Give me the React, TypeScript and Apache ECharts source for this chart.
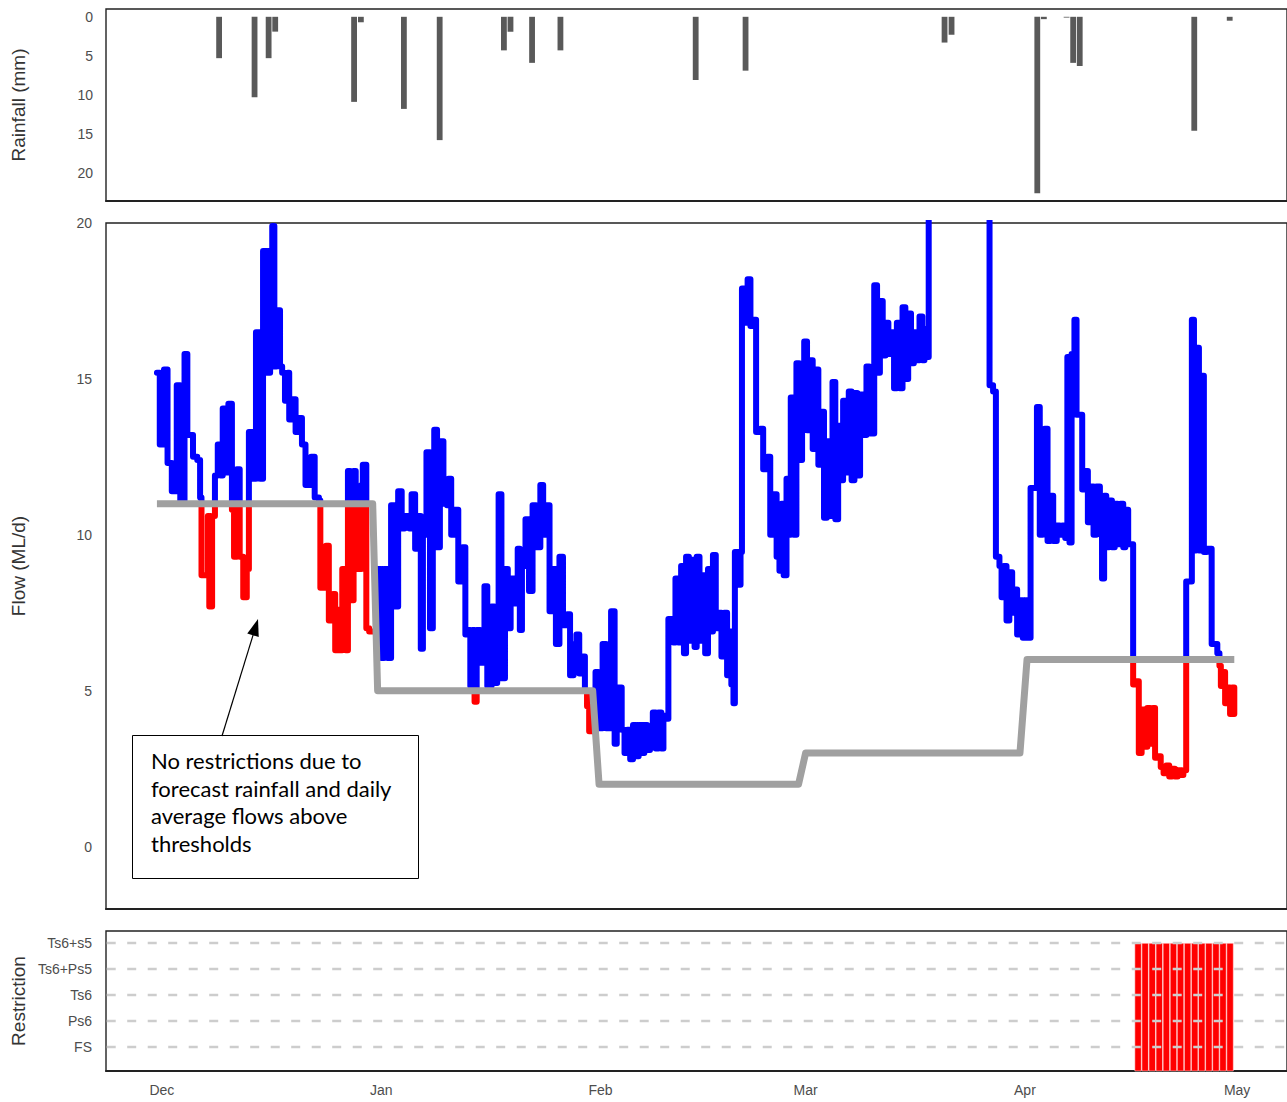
import React, { useEffect, useRef } from "react";
import * as echarts from "echarts";

// x values are days since 1 December (Dec 1 = 0)
const monthTickDays = [0, 31, 62, 91, 122, 152];
const monthLabels = ["Dec", "Jan", "Feb", "Mar", "Apr", "May"];
const axisDayMin = -7.9;
const axisDayMax = 159.05;

const rainTicks = [0, 5, 10, 15, 20];
const flowTicks = [0, 5, 10, 15, 20];

const rainDays = [8.09, 13.1, 15.09, 16.02, 27.17, 28.13, 34.21, 39.27, 48.35, 49.28, 52.33, 56.34, 75.46, 82.51, 110.64, 111.63, 123.75, 124.68, 127.89, 128.82, 129.75, 145.94, 150.95];
const rainMm = [5.3, 10.3, 5.3, 1.9, 10.9, 0.7, 11.8, 15.8, 4.3, 1.9, 5.9, 4.3, 8.1, 6.9, 3.3, 2.3, 22.6, 0.3, 0.1, 5.9, 6.3, 14.6, 0.5];

// flow (ML/d), step series [day, value] — each value holds until the next day
const flowPoints: [number, number][] = [
  [-0.7, 15.2], [-0.3, 12.9], [0.3, 15.3], [0.8, 12.3], [1.4, 11.4], [2.1, 14.8], [2.6, 11.1], [3.2, 15.8], [3.6, 13.2], [4.4, 12.5],
  [5.0, 12.4], [5.4, 11.2], [5.6, 8.7], [6.5, 10.6], [6.7, 7.7], [7.1, 10.6], [7.5, 11.9], [7.9, 12.9], [8.3, 11.9], [8.6, 14.05],
  [9.0, 12.0], [9.4, 14.2], [9.9, 10.8], [10.2, 9.3], [10.6, 12.1], [11.0, 9.3], [11.5, 8.0], [12.0, 8.9], [12.3, 13.3], [12.8, 11.8],
  [13.3, 16.5], [13.9, 11.8], [14.3, 19.1], [14.9, 15.2], [15.3, 19.1], [15.6, 19.9], [15.9, 15.4], [16.2, 17.2], [16.7, 15.4], [17.0, 15.2],
  [17.4, 14.3], [17.8, 15.2], [18.0, 13.7], [18.4, 14.35], [18.9, 13.3], [19.3, 13.75], [19.8, 12.9], [20.3, 11.6], [21.1, 12.5], [21.6, 11.2],
  [22.2, 11.1], [22.4, 8.3], [23.2, 9.65], [23.6, 7.25], [24.2, 8.1], [24.5, 6.3], [25.0, 7.6], [25.3, 6.3], [25.5, 8.9], [26.0, 6.3],
  [26.3, 12.05], [26.6, 7.9], [27.1, 12.05], [27.4, 8.9], [28.2, 11.6], [28.4, 12.25], [28.9, 7.0], [29.3, 6.9], [30.5, 8.9], [31.0, 6.05],
  [31.4, 8.9], [31.9, 6.05], [32.4, 10.95], [32.9, 7.7], [33.4, 11.4], [33.9, 10.2], [34.3, 10.6], [35.0, 10.2], [35.3, 11.3], [35.8, 9.55],
  [36.2, 10.6], [36.6, 6.35], [36.9, 10.0], [37.4, 12.65], [37.9, 7.0], [38.3, 12.0], [38.5, 13.37], [38.9, 9.6], [39.3, 13.0], [39.8, 11.0],
  [40.3, 10.95], [40.5, 11.8], [40.9, 10.0], [41.4, 10.8], [41.9, 8.5], [42.5, 9.6], [42.9, 6.8], [43.3, 6.95], [43.6, 5.15], [43.9, 6.95],
  [44.2, 4.65], [44.5, 6.95], [45.0, 5.9], [45.4, 6.95], [45.6, 8.35], [46.0, 5.15], [46.6, 7.7], [47.0, 5.25], [47.4, 7.0], [47.6, 11.3],
  [48.0, 5.4], [48.5, 8.9], [48.9, 7.0], [49.3, 8.6], [49.8, 7.8], [50.3, 9.55], [50.6, 6.95], [50.9, 9.0], [51.4, 10.5], [51.9, 8.2],
  [52.4, 10.95], [52.9, 9.6], [53.5, 11.6], [53.9, 10.0], [54.3, 10.95], [54.8, 7.55], [55.3, 8.9], [55.7, 6.5], [56.2, 9.3], [56.7, 7.1],
  [57.3, 7.45], [57.7, 5.5], [58.2, 6.5], [58.6, 6.8], [59.0, 5.55], [59.4, 6.1], [59.8, 5.0], [60.1, 4.5], [60.4, 3.7], [61.3, 5.6],
  [61.7, 3.8], [62.3, 6.5], [62.8, 3.8], [63.5, 7.55], [64.0, 3.3], [64.3, 5.1], [65.0, 3.75], [65.4, 3.0], [65.8, 3.75], [66.2, 2.8],
  [66.6, 3.9], [67.0, 2.9], [67.4, 3.9], [67.8, 3.0], [68.2, 3.9], [68.6, 3.1], [69.0, 3.7], [69.4, 4.3], [69.8, 3.15], [70.2, 4.3],
  [70.6, 3.15], [70.9, 4.2], [71.3, 4.1], [71.6, 7.3], [72.3, 6.55], [72.6, 8.6], [73.0, 6.55], [73.4, 9.0], [73.8, 6.2], [74.1, 9.3],
  [74.5, 6.6], [74.9, 9.2], [75.3, 6.4], [75.6, 9.3], [76.0, 6.6], [76.4, 8.7], [76.8, 6.2], [77.2, 8.9], [77.6, 6.9], [77.9, 9.35],
  [78.3, 7.0], [78.7, 7.5], [79.1, 6.1], [79.5, 7.5], [79.9, 5.5], [80.2, 6.9], [80.5, 5.2], [80.8, 4.6], [81.0, 9.45], [81.5, 8.4],
  [81.8, 9.45], [82.0, 17.9], [82.5, 16.8], [82.8, 18.2], [83.2, 16.7], [83.6, 16.9], [84.0, 13.3], [84.6, 13.4], [85.0, 12.1], [85.6, 12.5],
  [86.0, 10.0], [86.5, 11.3], [86.9, 9.3], [87.3, 8.85], [87.6, 11.0], [87.9, 8.7], [88.3, 11.8], [88.6, 10.0], [88.9, 14.4], [89.3, 10.0],
  [89.7, 15.5], [90.1, 12.4], [90.5, 14.0], [90.8, 16.2], [91.2, 13.35], [91.6, 15.6], [92.0, 12.75], [92.4, 15.3], [92.8, 12.25], [93.2, 13.95],
  [93.6, 10.55], [94.0, 13.0], [94.4, 10.6], [94.8, 14.9], [95.2, 10.5], [95.6, 13.5], [96.0, 11.75], [96.3, 14.3], [96.7, 12.0], [97.1, 14.6],
  [97.5, 11.75], [97.9, 14.55], [98.3, 11.9], [98.7, 14.5], [99.1, 13.2], [99.6, 15.4], [100.0, 13.25], [100.7, 18.0], [101.1, 15.2], [101.5, 17.5],
  [101.9, 15.75], [102.3, 16.8], [102.7, 15.8], [103.1, 16.5], [103.5, 14.7], [103.9, 16.8], [104.3, 14.7], [104.7, 17.3], [105.1, 15.0], [105.5, 17.1],
  [105.9, 15.5], [106.3, 16.5], [106.7, 15.6], [107.1, 17.0], [107.5, 15.6], [107.8, 16.6], [108.1, 15.7], [108.4, 25.0], [117.0, 14.8], [117.5, 14.6],
  [117.9, 9.3], [118.4, 9.0], [118.7, 8.0], [119.0, 9.0], [119.4, 7.25], [119.8, 8.8], [120.2, 7.5], [120.5, 8.25], [120.9, 6.8], [121.3, 7.9],
  [121.7, 6.7], [122.1, 7.9], [122.4, 6.7], [122.8, 11.5], [123.7, 14.1], [124.1, 10.0], [124.5, 11.3], [124.8, 13.4], [125.2, 9.8], [125.6, 11.25],
  [126.0, 9.8], [126.5, 10.3], [126.9, 10.0], [127.3, 10.3], [127.7, 9.9], [128.0, 15.7], [128.3, 9.75], [128.6, 15.8], [129.0, 16.9], [129.3, 13.85],
  [130.1, 11.45], [130.5, 12.05], [130.9, 10.4], [131.3, 11.55], [131.7, 10.0], [132.1, 11.55], [132.6, 11.25], [132.9, 8.6], [133.2, 11.25], [133.5, 9.6],
  [133.9, 11.1], [134.3, 9.6], [134.7, 11.0], [135.1, 9.7], [135.5, 11.0], [135.9, 9.6], [136.2, 10.8], [136.6, 9.7], [137.3, 5.2], [137.8, 5.3],
  [138.1, 3.0], [138.5, 4.4], [138.9, 3.2], [139.3, 4.45], [139.7, 3.3], [140.1, 4.45], [140.4, 2.85], [140.8, 2.9], [141.2, 2.55], [141.6, 2.35],
  [142.0, 2.6], [142.4, 2.25], [142.8, 2.5], [143.2, 2.25], [143.6, 2.45], [144.0, 2.3], [144.4, 2.45], [144.8, 8.5], [145.6, 16.9], [145.9, 9.5],
  [146.2, 16.0], [146.6, 9.5], [146.9, 15.1], [147.3, 9.45], [147.7, 9.55], [148.4, 6.5], [149.2, 6.2], [149.5, 5.8], [149.7, 5.15], [150.0, 5.6],
  [150.3, 4.6], [150.7, 5.1], [151.0, 4.25], [151.3, 5.1], [151.6, 4.25],
];

// flow threshold (ML/d), linear between points
const thresholdPoints: [number, number][] = [
  [-0.7, 11], [29.8, 11], [30.5, 5], [60.9, 5], [61.8, 2], [90.0, 2], [91.0, 3], [121.3, 3], [122.3, 6], [151.6, 6],
];

const restrictionLabels = ["FS", "Ps6", "Ts6", "Ts6+Ps5", "Ts6+s5"];
const restrictionTickValues = [1, 2, 3, 4, 5];
const restrictionDays = [138, 139, 140, 141, 142, 143, 144, 145, 146, 147, 148, 149, 150, 151];
const restrictionLevel = [5, 5, 5, 5, 5, 5, 5, 5, 5, 5, 5, 5, 5, 5];

const annotationText = "No restrictions due to\nforecast rainfall and daily\naverage flows above\nthresholds";

type Pt = [number, number];

function thresholdAt(d: number): number {
  const p = thresholdPoints;
  if (d <= p[0][0]) return p[0][1];
  for (let i = 1; i < p.length; i++) {
    if (d <= p[i][0]) {
      const [x0, y0] = p[i - 1];
      const [x1, y1] = p[i];
      return y0 + ((y1 - y0) * (d - x0)) / (x1 - x0);
    }
  }
  return p[p.length - 1][1];
}

// Split the stepped flow path into parts above (blue) and below (red) the threshold
function splitFlow() {
  const verts: Pt[] = [];
  flowPoints.forEach(([d, v], i) => {
    if (i > 0) verts.push([d, flowPoints[i - 1][1]]);
    verts.push([d, v]);
  });
  const knots = thresholdPoints.map((p) => p[0]);
  const pieces: { a: Pt; b: Pt; above: boolean }[] = [];
  for (let i = 0; i < verts.length - 1; i++) {
    const P = verts[i];
    const Q = verts[i + 1];
    if (P[0] === Q[0] && P[1] === Q[1]) continue;
    const cuts: Pt[] = [P];
    if (P[1] === Q[1]) {
      knots
        .filter((k) => k > Math.min(P[0], Q[0]) && k < Math.max(P[0], Q[0]))
        .forEach((k) => cuts.push([k, P[1]]));
    }
    cuts.push(Q);
    for (let j = 0; j < cuts.length - 1; j++) {
      const A = cuts[j];
      const B = cuts[j + 1];
      const sA = A[1] - thresholdAt(A[0]);
      const sB = B[1] - thresholdAt(B[0]);
      if (sA * sB < 0) {
        const t = sA / (sA - sB);
        const C: Pt = [A[0] + (B[0] - A[0]) * t, A[1] + (B[1] - A[1]) * t];
        pieces.push({ a: A, b: C, above: sA > 0 });
        pieces.push({ a: C, b: B, above: sB > 0 });
      } else {
        pieces.push({ a: A, b: B, above: sA > 0 || (sA === 0 && sB >= 0) });
      }
    }
  }
  const blue: any[] = [];
  const red: any[] = [];
  let cur: boolean | null = null;
  for (const pc of pieces) {
    const arr = pc.above ? blue : red;
    if (cur !== pc.above) {
      if (cur !== null) (cur ? blue : red).push([pc.a[0], "-"]);
      arr.push(pc.a);
      cur = pc.above;
    }
    arr.push(pc.b);
  }
  return { blue, red };
}

const tickFont = "'Liberation Sans', Arial, sans-serif";
const tickColor = "#4d4d4d";

function buildOption() {
  const { blue, red } = splitFlow();

  const gridBase = { left: 106, width: 1183, show: true, borderColor: "#222", borderWidth: 1.4, backgroundColor: "#fff" };
  const grids = [
    { ...gridBase, top: 9, height: 192 },
    { ...gridBase, top: 223, height: 686 },
    { ...gridBase, top: 931, height: 140 },
  ];

  const xAxes = [0, 1, 2].map((i) => ({
    type: "value",
    gridIndex: i,
    min: axisDayMin,
    max: axisDayMax,
    axisLine: { show: true, onZero: false, lineStyle: { color: "#222", width: 2 } },
    axisTick: { show: false },
    splitLine: { show: false },
    axisLabel:
      i === 2
        ? {
            show: true,
            customValues: monthTickDays,
            formatter: (v: number) => monthLabels[monthTickDays.indexOf(v)] ?? "",
            color: tickColor,
            fontSize: 14,
            fontFamily: tickFont,
            margin: 12,
          }
        : { show: false },
  }));

  const yCommon = {
    type: "value",
    axisLine: { show: false },
    axisTick: { show: false },
    splitLine: { show: false },
  };

  const yAxes = [
    {
      ...yCommon,
      gridIndex: 0,
      inverse: true,
      min: -1,
      max: 23.6,
      axisLabel: { customValues: rainTicks, color: tickColor, fontSize: 14, fontFamily: tickFont, margin: 13 },
    },
    {
      ...yCommon,
      gridIndex: 1,
      min: -2,
      max: 20,
      axisLabel: { customValues: flowTicks, color: tickColor, fontSize: 14, fontFamily: tickFont, margin: 14 },
    },
    {
      ...yCommon,
      gridIndex: 2,
      min: 0.08,
      max: 5.46,
      axisLabel: {
        customValues: restrictionTickValues,
        formatter: (v: number) => restrictionLabels[restrictionTickValues.indexOf(v)] ?? "",
        color: tickColor,
        fontSize: 14,
        fontFamily: tickFont,
        margin: 14,
      },
    },
  ];

  const dashSeries = restrictionTickValues.map((lvl) => ({
    type: "line",
    xAxisIndex: 2,
    yAxisIndex: 2,
    data: [
      [axisDayMin + 0.1, lvl],
      [axisDayMax, lvl],
    ],
    showSymbol: false,
    silent: true,
    z: 10,
    lineStyle: { color: "#cdcdcd", width: 2.5, type: [9, 11.5] },
  }));

  const flowLine = { width: 6, cap: "round", join: "round" };

  const series: any[] = [
    {
      type: "bar",
      xAxisIndex: 0,
      yAxisIndex: 0,
      data: rainDays.map((d, i) => [d, rainMm[i]]),
      barWidth: 5.8,
      itemStyle: { color: "#595959" },
    },
    {
      type: "line",
      xAxisIndex: 1,
      yAxisIndex: 1,
      data: blue,
      showSymbol: false,
      connectNulls: false,
      z: 2,
      lineStyle: { ...flowLine, color: "#0000ff" },
    },
    {
      type: "line",
      xAxisIndex: 1,
      yAxisIndex: 1,
      data: red,
      showSymbol: false,
      connectNulls: false,
      z: 3,
      lineStyle: { ...flowLine, color: "#ff0000" },
    },
    {
      type: "line",
      xAxisIndex: 1,
      yAxisIndex: 1,
      data: thresholdPoints,
      showSymbol: false,
      z: 4,
      lineStyle: { color: "#a0a0a0", width: 7, cap: "butt", join: "round" },
    },
    {
      type: "bar",
      xAxisIndex: 2,
      yAxisIndex: 2,
      data: restrictionDays.map((d, i) => [d, restrictionLevel[i]]),
      barWidth: 7.1,
      z: 2,
      itemStyle: { color: "#ff0000", borderColor: "rgba(255,230,230,0.9)", borderWidth: 0.6 },
    },
    ...dashSeries,
  ];

  // arrow geometry (annotation)
  const tip = [258, 619];
  const tail = [222, 736];
  const dx = tip[0] - tail[0];
  const dy = tip[1] - tail[1];
  const len = Math.hypot(dx, dy);
  const ux = dx / len;
  const uy = dy / len;
  const headLen = 17;
  const headHalf = 6;
  const bx = tip[0] - ux * headLen;
  const by = tip[1] - uy * headLen;

  const titleStyle = { fontSize: 19, fill: "#333", fontFamily: tickFont, textAlign: "center", textVerticalAlign: "middle" };

  const graphic = [
    { type: "text", x: 18, y: 105, rotation: Math.PI / 2, style: { ...titleStyle, text: "Rainfall (mm)" } },
    { type: "text", x: 18, y: 566, rotation: Math.PI / 2, style: { ...titleStyle, text: "Flow (ML/d)" } },
    { type: "text", x: 18, y: 1001, rotation: Math.PI / 2, style: { ...titleStyle, text: "Restriction" } },
    {
      type: "rect",
      z: 20,
      shape: { x: 132.5, y: 735.5, width: 286, height: 143 },
      style: { fill: "#fff", stroke: "#000", lineWidth: 1 },
    },
    {
      type: "text",
      z: 21,
      x: 151,
      y: 747,
      style: { text: annotationText, fontSize: 22, lineHeight: 27.5, fontFamily: "Lato, 'Open Sans', sans-serif", fill: "#000" },
    },
    {
      type: "line",
      z: 21,
      shape: { x1: tail[0], y1: tail[1], x2: bx + ux * 2, y2: by + uy * 2 },
      style: { stroke: "#000", lineWidth: 1.2 },
    },
    {
      type: "polygon",
      z: 21,
      shape: {
        points: [
          [tip[0], tip[1]],
          [bx - uy * headHalf, by + ux * headHalf],
          [bx + uy * headHalf, by - ux * headHalf],
        ],
      },
      style: { fill: "#000" },
    },
  ];

  return {
    animation: false,
    backgroundColor: "#fff",
    grid: grids,
    xAxis: xAxes,
    yAxis: yAxes,
    series,
    graphic,
  };
}

export default function App() {
  const ref = useRef<HTMLDivElement>(null);
  useEffect(() => {
    if (!ref.current) return;
    const chart = echarts.init(ref.current, null, { renderer: "svg" });
    chart.setOption(buildOption() as any);
    return () => chart.dispose();
  }, []);
  return (
    <div
      ref={ref}
      style={{ position: "absolute", left: 0, top: 0, width: 1287, height: 1102, background: "#fff", overflow: "hidden" }}
    />
  );
}
